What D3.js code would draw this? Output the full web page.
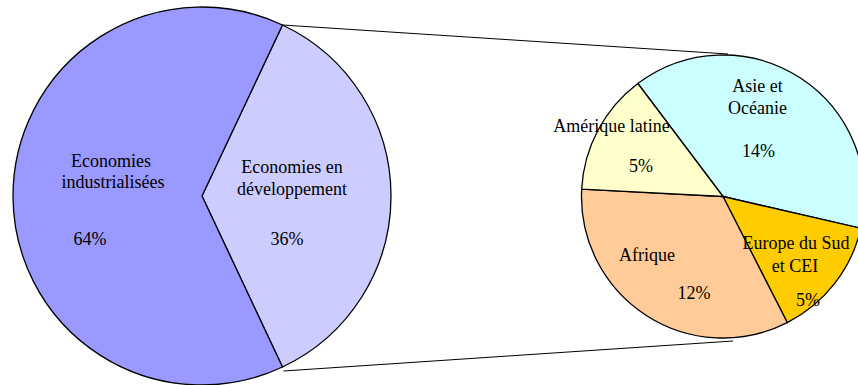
<!DOCTYPE html>
<html>
<head>
<meta charset="utf-8">
<script src="https://cdn.jsdelivr.net/npm/d3@7/dist/d3.min.js"></script>
<style>
  html, body { margin: 0; padding: 0; background: #fff; }
  svg { display: block; }
</style>
</head>
<body>
<svg id="chart" width="858" height="385"></svg>
<script>
// Main pie: world economy split
const mainCategories = ["Economies en développement", "Economies industrialisées"];
const mainValues = [36, 64];
const mainColors = ["#CCCCFF", "#9999FF"];

// Secondary pie: breakdown of developing economies
const subCategories = ["Asie et Océanie", "Europe du Sud et CEI", "Afrique", "Amérique latine"];
const subValues = [14, 5, 12, 5];
const subColors = ["#CCFFFF", "#FFCC00", "#FFCC99", "#FFFFCC"];

const W = 858, H = 385;
const svg = d3.select("#chart");
const deg = Math.PI / 180;
const FONT = "'Liberation Serif', 'Times New Roman', Times, serif";

// Layout of the two pies
const main = { cx: 202, cy: 196, r: 189 };
const sub = { cx: 723, cy: 196.5, r: 141.5 };

// Developing slice centred on the right-hand side (3 o'clock)
const devSpan = mainValues[0] / d3.sum(mainValues) * 2 * Math.PI;
const mainPie = d3.pie().sort(null).value(d => d)
  .startAngle(Math.PI / 2 - devSpan / 2)
  .endAngle(Math.PI / 2 - devSpan / 2 + 2 * Math.PI);
const subPie = d3.pie().sort(null).value(d => d)
  .startAngle(-37 * deg)
  .endAngle(-37 * deg + 2 * Math.PI);

const mainArc = d3.arc().innerRadius(0).outerRadius(main.r);
const subArc = d3.arc().innerRadius(0).outerRadius(sub.r);

const mainArcs = mainPie(mainValues);
const subArcs = subPie(subValues);

// Connector lines from the developing slice edges to the secondary pie
const pt = (c, a, r) => [c.cx + r * Math.sin(a), c.cy - r * Math.cos(a)];
const dev = mainArcs[0];
const topStart = pt(main, dev.startAngle, main.r);
const botStart = pt(main, dev.endAngle, main.r);
const connectors = [
  [topStart, [sub.cx + 5, sub.cy - sub.r - 1]],
  [[botStart[0] + 1, botStart[1] + 4], [sub.cx + 10, sub.cy + sub.r + 3]]
];
svg.append("g").selectAll("line").data(connectors).join("line")
  .attr("x1", d => d[0][0]).attr("y1", d => d[0][1])
  .attr("x2", d => d[1][0]).attr("y2", d => d[1][1])
  .attr("stroke", "#000").attr("stroke-width", 1);

// Main pie slices
svg.append("g").attr("transform", `translate(${main.cx},${main.cy})`)
  .selectAll("path").data(mainArcs).join("path")
  .attr("d", mainArc)
  .attr("fill", (d, i) => mainColors[i])
  .attr("stroke", "#000").attr("stroke-width", 1.3).attr("stroke-linejoin", "round");

// Secondary pie slices
svg.append("g").attr("transform", `translate(${sub.cx},${sub.cy})`)
  .selectAll("path").data(subArcs).join("path")
  .attr("d", subArc)
  .attr("fill", (d, i) => subColors[i])
  .attr("stroke", "#000").attr("stroke-width", 1.3).attr("stroke-linejoin", "round");

// Label lines, positioned relative to each pie centre
const mainLabels = [
  { lines: [["Economies en", 90, -23], ["développement", 90, -1]], pct: [85, 49] },
  { lines: [["Economies", -91, -29], ["industrialisées", -89, -8]], pct: [-112, 49] }
];
const subLabels = [
  { lines: [["Asie et", 34.5, -104.5], ["Océanie", 34.5, -83]], pct: [35.5, -39.5] },
  { lines: [["Europe du Sud", 73, 52.5], ["et CEI", 72, 75]], pct: [85, 109] },
  { lines: [["Afrique", -76, 64]], pct: [-29, 102.5] },
  { lines: [["Amérique latine", -111.5, -65]], pct: [-82, -24.5] }
];

function addText(g, x, y, t) {
  g.append("text").attr("x", x).attr("y", y)
    .attr("text-anchor", "middle")
    .attr("font-family", FONT)
    .attr("font-size", 18)
    .attr("fill", "#000")
    .text(t);
}

function drawLabels(center, arcs, labels) {
  const g = svg.append("g").attr("transform", `translate(${center.cx},${center.cy})`);
  arcs.forEach((a, i) => {
    const L = labels[i];
    L.lines.forEach(([t, x, y]) => addText(g, x, y, t));
    addText(g, L.pct[0], L.pct[1], d3.format(".0f")(a.value) + "%");
  });
}
drawLabels(main, mainArcs, mainLabels);
drawLabels(sub, subArcs, subLabels);
</script>
</body>
</html>
